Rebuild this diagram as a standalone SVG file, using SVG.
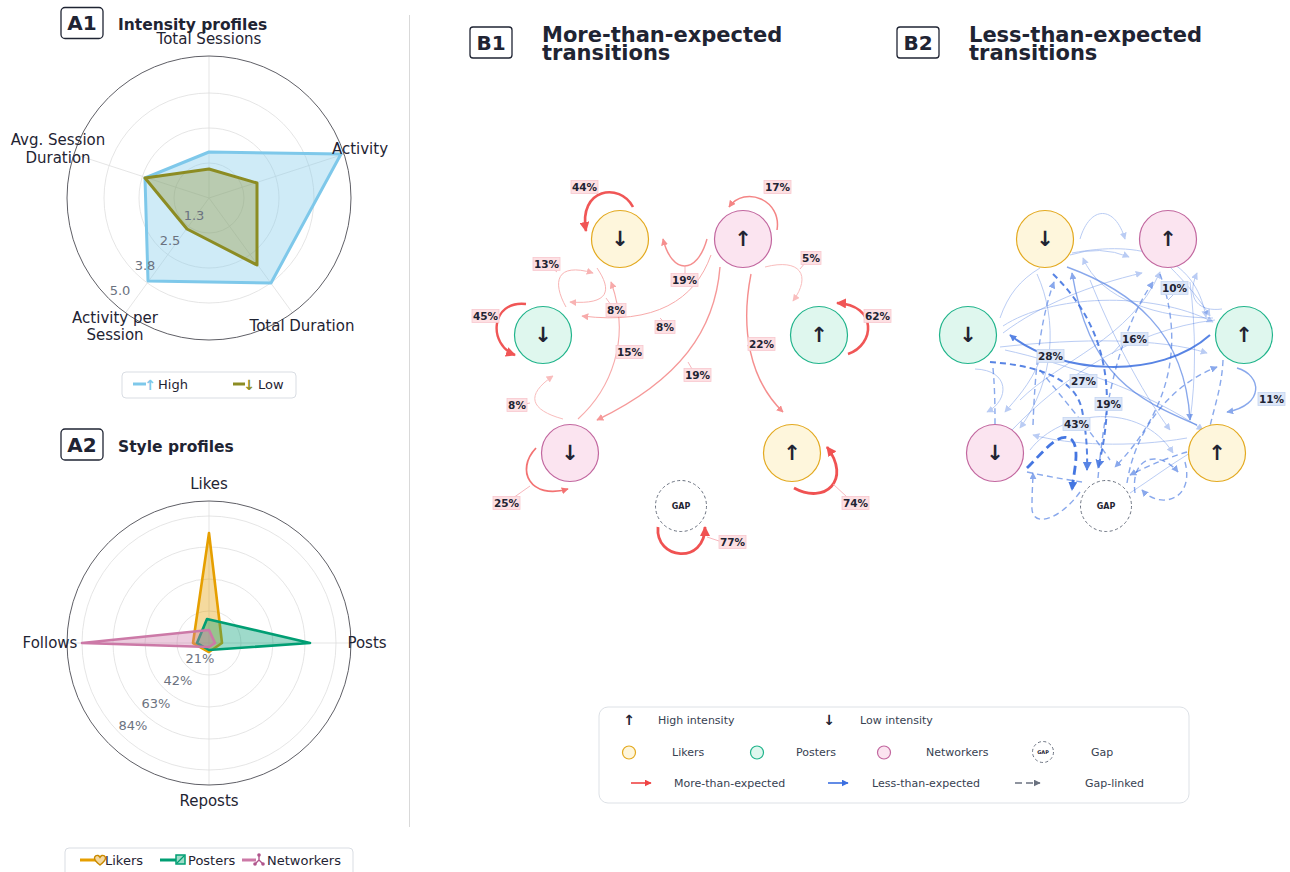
<svg xmlns="http://www.w3.org/2000/svg" width="1290" height="872" viewBox="0 0 1290 872">
<style>
text{font-family:"DejaVu Sans","Liberation Sans",sans-serif;fill:#1f2433}
.ttl{font-weight:bold;font-size:15.5px}
.badge{fill:#fff;stroke:#1f2433;stroke-width:1.3}
.bt{font-weight:bold;font-size:20px;text-anchor:middle}
.ax{font-size:15px;text-anchor:middle}
.tk{font-size:13px;fill:#6b7280;text-anchor:middle}
.grid{fill:none;stroke:#dedede;stroke-width:0.8}
.spine{fill:none;stroke:#5f5f66;stroke-width:1}
.lg{font-size:13px}
.lbox{fill:#fff;stroke:#d9dde3;stroke-width:1}
.big{font-weight:bold;font-size:21px}
.nl{font-weight:bold;font-size:21px;text-anchor:middle}
.lk{fill:#fef6dc;stroke:#e3a91f;stroke-width:1.2}
.ps{fill:#dff7ee;stroke:#20b48b;stroke-width:1.2}
.nw{fill:#fbe4f0;stroke:#c2679f;stroke-width:1.2}
.gap{fill:#fff;stroke:#6b7280;stroke-width:1;stroke-dasharray:3 2.5}
.gt{font-weight:bold;font-size:8px;text-anchor:middle}
.r{fill:none;stroke:#ef4444}
.b{fill:none;stroke:#3b6fe0}
.d{stroke-dasharray:6 4}
.pl{fill:#fde0e3;stroke:#f8c8ce;stroke-width:0.8}
.bl{fill:#dde7f8;stroke:#c5d5f1;stroke-width:0.8}
.et{font-weight:bold;font-size:10.5px;text-anchor:middle}
.ld{stroke:#f4a3ab;stroke-width:0.8;fill:none}
.ldb{stroke:#9fb8ec;stroke-width:0.8;fill:none}
.lt{font-size:11px;fill:#374151}
.s1{stroke-width:1;opacity:0.35}
.s2{stroke-width:1.4;opacity:0.6}
.s3{stroke-width:2;opacity:0.85}
.s4{stroke-width:2.8;opacity:0.95}
</style>
<defs>
<marker id="mr" viewBox="0 0 10 10" refX="9" refY="5" markerWidth="7" markerHeight="7" markerUnits="userSpaceOnUse" orient="auto"><path d="M0,0 L10,5 L0,10 z" fill="#ef4444"/></marker>
<marker id="mrb" viewBox="0 0 10 10" refX="9" refY="5" markerWidth="10" markerHeight="10" markerUnits="userSpaceOnUse" orient="auto"><path d="M0,0 L10,5 L0,10 z" fill="#ef4444"/></marker>
<marker id="mb" viewBox="0 0 10 10" refX="9" refY="5" markerWidth="7" markerHeight="7" markerUnits="userSpaceOnUse" orient="auto"><path d="M0,0 L10,5 L0,10 z" fill="#3b6fe0"/></marker>
<marker id="mbb" viewBox="0 0 10 10" refX="9" refY="5" markerWidth="9" markerHeight="9" markerUnits="userSpaceOnUse" orient="auto"><path d="M0,0 L10,5 L0,10 z" fill="#3b6fe0"/></marker>
<marker id="mg" viewBox="0 0 10 10" refX="9" refY="5" markerWidth="7" markerHeight="7" markerUnits="userSpaceOnUse" orient="auto"><path d="M0,0 L10,5 L0,10 z" fill="#6b7280"/></marker>
</defs>
<rect width="1290" height="872" fill="#fff"/>

<!-- divider -->
<line x1="409.5" y1="15" x2="409.5" y2="827" stroke="#d9d9d9" stroke-width="1"/>

<!-- Panel A1 -->
<g id="panelA1">
<rect class="badge" x="61" y="7.5" width="42" height="31" rx="4"/>
<text class="bt" x="82" y="30">A1</text>
<text class="ttl" x="118" y="30">Intensity profiles</text>
<g id="radarA1-grid">
<circle class="grid" cx="209" cy="198" r="35"/>
<circle class="grid" cx="209" cy="198" r="70"/>
<circle class="grid" cx="209" cy="198" r="105"/>
<line class="grid" x1="209" y1="198" x2="209" y2="56"/>
<line class="grid" x1="209" y1="198" x2="344" y2="154.1"/>
<line class="grid" x1="209" y1="198" x2="292.5" y2="312.9"/>
<line class="grid" x1="209" y1="198" x2="125.5" y2="312.9"/>
<line class="grid" x1="209" y1="198" x2="74" y2="154.1"/>
<circle class="spine" cx="209" cy="198" r="142"/>
</g>
<polygon id="a1-high" points="209,152 341,154 271,283 148,281 145,178" fill="#87ceeb" fill-opacity="0.4" stroke="#7ec8ea" stroke-width="3" stroke-linejoin="round"/>
<polygon id="a1-low" points="209,169 257,183 257,265 187,229 145,178" fill="#8f8f2a" fill-opacity="0.35" stroke="#8c8c23" stroke-width="3" stroke-linejoin="round"/>
<text class="tk" x="194" y="220">1.3</text>
<text class="tk" x="170" y="245">2.5</text>
<text class="tk" x="145" y="270">3.8</text>
<text class="tk" x="120" y="295">5.0</text>
<text class="ax" x="209" y="44">Total Sessions</text>
<text class="ax" x="360" y="154">Activity</text>
<text class="ax" x="302" y="331">Total Duration</text>
<text class="ax" x="115" y="323">Activity per</text>
<text class="ax" x="115" y="340">Session</text>
<text class="ax" x="58" y="145">Avg. Session</text>
<text class="ax" x="58" y="163">Duration</text>
<g id="legendA1">
<rect class="lbox" x="122" y="372" width="174" height="26" rx="4"/>
<line x1="133" y1="384" x2="146" y2="384" stroke="#7ec8ea" stroke-width="3"/>
<text x="150" y="389.5" font-size="14" font-weight="bold" text-anchor="middle" style="fill:#7ec8ea">↑</text>
<text class="lg" x="158" y="389">High</text>
<line x1="233" y1="384" x2="245" y2="384" stroke="#8c8c23" stroke-width="3"/>
<text x="249" y="389.5" font-size="14" font-weight="bold" text-anchor="middle" style="fill:#8c8c23">↓</text>
<text class="lg" x="258" y="389">Low</text>
</g>
</g>

<!-- Panel A2 -->
<g id="panelA2">
<rect class="badge" x="61" y="429" width="42" height="31" rx="4"/>
<text class="bt" x="82" y="452">A2</text>
<text class="ttl" x="118" y="452">Style profiles</text>
<g id="radarA2-grid">
<circle class="grid" cx="209" cy="643" r="32"/>
<circle class="grid" cx="209" cy="643" r="64"/>
<circle class="grid" cx="209" cy="643" r="96"/>
<circle class="grid" cx="209" cy="643" r="127"/>
<line class="grid" x1="209" y1="501" x2="209" y2="785"/>
<line class="grid" x1="67" y1="643" x2="351" y2="643"/>
<circle class="spine" cx="209" cy="643" r="142"/>
</g>
<polygon id="a2-likers" points="209,533 222,643 209,652 193,643" fill="#e69f00" fill-opacity="0.38" stroke="#e69f00" stroke-width="2.6" stroke-linejoin="round"/>
<polygon id="a2-posters" points="207,619 310,643 209,650 197,643" fill="#009e73" fill-opacity="0.38" stroke="#009e73" stroke-width="2.6" stroke-linejoin="round"/>
<polygon id="a2-networkers" points="209,630 215,643 209,647 82,643" fill="#cc79a7" fill-opacity="0.38" stroke="#cc79a7" stroke-width="2.6" stroke-linejoin="round"/>
<text class="tk" x="200" y="663">21%</text>
<text class="tk" x="178" y="685">42%</text>
<text class="tk" x="156" y="708">63%</text>
<text class="tk" x="133" y="730">84%</text>
<text class="ax" x="209" y="489">Likes</text>
<text class="ax" x="367" y="648">Posts</text>
<text class="ax" x="209" y="806">Reposts</text>
<text class="ax" x="50" y="648">Follows</text>
<g id="legendA2">
<rect class="lbox" x="65" y="848" width="288" height="30" rx="4"/>
<line x1="80" y1="860" x2="96" y2="860" stroke="#e69f00" stroke-width="3"/>
<path d="M100,865 C96,862 94.5,860 94.5,858 C94.5,856 96.5,855 98,855.5 C99,855.9 99.6,856.6 100,857.3 C100.4,856.6 101,855.9 102,855.5 C103.5,855 105.5,856 105.5,858 C105.5,860 104,862 100,865 Z" fill="#f5d9a0" stroke="#c98a00" stroke-width="1.4"/>
<text class="lg" x="105" y="865">Likers</text>
<line x1="160" y1="860" x2="176" y2="860" stroke="#009e73" stroke-width="3"/>
<rect x="176" y="855" width="9" height="9" fill="#9fdcc8" stroke="#009e73" stroke-width="1.5"/>
<line x1="177" y1="863" x2="184" y2="856" stroke="#009e73" stroke-width="1.3"/>
<text class="lg" x="188" y="865">Posters</text>
<line x1="242" y1="860" x2="256" y2="860" stroke="#cc79a7" stroke-width="3"/>
<path d="M259,855 L259,860 M259,860 L255,864 M259,860 L263,864" stroke="#b0558c" stroke-width="1.4" fill="none"/>
<circle cx="259" cy="855" r="1.8" fill="#b0558c"/>
<circle cx="255" cy="864" r="1.8" fill="#b0558c"/>
<circle cx="263" cy="864" r="1.8" fill="#b0558c"/>
<text class="lg" x="267" y="865">Networkers</text>
</g>
</g>

<!-- Panel B1 titles -->
<g id="titleB1">
<rect class="badge" x="470" y="27" width="42" height="31" rx="3"/>
<text class="bt" x="491" y="50">B1</text>
<text class="big" x="542" y="42">More-than-expected</text>
<text class="big" x="542" y="60">transitions</text>
</g>
<g id="titleB2">
<rect class="badge" x="897" y="27" width="42" height="31" rx="3"/>
<text class="bt" x="918" y="50">B2</text>
<text class="big" x="969" y="42">Less-than-expected</text>
<text class="big" x="969" y="60">transitions</text>
</g>

<!-- B1 connectors -->
<g id="edgesB1">
<path class="r" d="M633,207 C620,182 578,188 586,231" stroke-width="2.6" opacity="0.9" marker-end="url(#mrb)"/>
<path class="r" d="M777,230 C782,200 745,185 729,207" stroke-width="1.5" opacity="0.65" marker-end="url(#mr)"/>
<path class="r" d="M707,239 C697,275 672,275 663,239" stroke-width="1.4" opacity="0.6" marker-end="url(#mr)"/>
<path class="r" d="M566,307 C552,282 556,262 593,273" stroke-width="1" opacity="0.4" marker-end="url(#mr)"/>
<path class="r" d="M597,268 C612,290 610,305 570,302" stroke-width="1" opacity="0.4" marker-end="url(#mr)"/>
<path class="r" d="M711,255 C695,300 655,325 582,316" stroke-width="1" opacity="0.45" marker-end="url(#mr)"/>
<path class="r" d="M578,419 C610,390 632,340 611,282" stroke-width="1.1" opacity="0.45" marker-end="url(#mr)"/>
<path class="r" d="M720,267 C715,330 680,380 597,420" stroke-width="1.4" opacity="0.55" marker-end="url(#mr)"/>
<path class="r" d="M751,274 C740,330 750,380 783,412" stroke-width="1.4" opacity="0.6" marker-end="url(#mr)"/>
<path class="r" d="M765,267 C800,258 812,275 793,301" stroke-width="1" opacity="0.35" marker-end="url(#mr)"/>
<path class="r" d="M848,354 C875,345 878,305 837,303" stroke-width="2.6" opacity="0.9" marker-end="url(#mrb)"/>
<path class="r" d="M526,304 C490,300 488,345 515,355" stroke-width="2.4" opacity="0.9" marker-end="url(#mrb)"/>
<path class="r" d="M563,419 C530,410 525,395 553,376" stroke-width="1" opacity="0.35" marker-end="url(#mr)"/>
<path class="r" d="M536,448 C515,470 530,500 568,489" stroke-width="1.8" opacity="0.75" marker-end="url(#mr)"/>
<path class="r" d="M794,488 C825,505 852,480 827,447" stroke-width="2.8" opacity="0.92" marker-end="url(#mrb)"/>
<path class="r" d="M658,527 C655,560 705,565 705,527" stroke-width="2.8" opacity="0.92" marker-end="url(#mrb)"/>
<path class="ld" d="M685,266 L685,274 M557,272 L552,268 M606,298 L611,305 M660,318 L663,321 M530,486 L513,498 M833,484 L847,497 M707,537 L719,541 M747,346 L750,344 M800,269 L805,263 M688,362 L692,369 M525,404 L530,403"/>
</g>
<g id="labelsB1">
<g><rect class="pl" x="571" y="180.5" width="27" height="13"/><text class="et" x="584.5" y="191">44%</text></g>
<g><rect class="pl" x="764" y="180.5" width="27" height="13"/><text class="et" x="777.5" y="191">17%</text></g>
<g><rect class="pl" x="671" y="273.5" width="27" height="13"/><text class="et" x="684.5" y="284">19%</text></g>
<g><rect class="pl" x="533" y="257.5" width="27" height="13"/><text class="et" x="546.5" y="268">13%</text></g>
<g><rect class="pl" x="606" y="303.5" width="20" height="13"/><text class="et" x="616" y="314">8%</text></g>
<g><rect class="pl" x="655" y="320.5" width="20" height="13"/><text class="et" x="665" y="331">8%</text></g>
<g><rect class="pl" x="616" y="345.5" width="27" height="13"/><text class="et" x="629.5" y="356">15%</text></g>
<g><rect class="pl" x="684" y="368.5" width="27" height="13"/><text class="et" x="697.5" y="379">19%</text></g>
<g><rect class="pl" x="748" y="337.5" width="27" height="13"/><text class="et" x="761.5" y="348">22%</text></g>
<g><rect class="pl" x="801" y="251.5" width="20" height="13"/><text class="et" x="811" y="262">5%</text></g>
<g><rect class="pl" x="864" y="309.5" width="27" height="13"/><text class="et" x="877.5" y="320">62%</text></g>
<g><rect class="pl" x="472" y="309.5" width="27" height="13"/><text class="et" x="485.5" y="320">45%</text></g>
<g><rect class="pl" x="507" y="398.5" width="20" height="13"/><text class="et" x="517" y="409">8%</text></g>
<g><rect class="pl" x="493" y="496.5" width="27" height="13"/><text class="et" x="506.5" y="507">25%</text></g>
<g><rect class="pl" x="842" y="496.5" width="27" height="13"/><text class="et" x="855.5" y="507">74%</text></g>
<g><rect class="pl" x="719" y="535.5" width="27" height="13"/><text class="et" x="732.5" y="546">77%</text></g>
</g>

<!-- B1 nodes -->
<g id="b1-likers-low"><circle class="lk" cx="620" cy="239" r="28.5"/><text class="nl" x="620" y="246">↓</text></g>
<g id="b1-networkers-high"><circle class="nw" cx="743" cy="239" r="28.5"/><text class="nl" x="743" y="246">↑</text></g>
<g id="b1-posters-low"><circle class="ps" cx="543" cy="335" r="28.5"/><text class="nl" x="543" y="342">↓</text></g>
<g id="b1-posters-high"><circle class="ps" cx="819" cy="335" r="28.5"/><text class="nl" x="819" y="342">↑</text></g>
<g id="b1-networkers-low"><circle class="nw" cx="570" cy="453" r="28.5"/><text class="nl" x="570" y="460">↓</text></g>
<g id="b1-likers-high"><circle class="lk" cx="792" cy="453" r="28.5"/><text class="nl" x="792" y="460">↑</text></g>
<g id="b1-gap"><circle class="gap" cx="681" cy="506" r="25.5"/><text class="gt" x="681" y="509">GAP</text></g>

<!-- B2 connectors -->
<g id="edgesB2">
<path class="b s1" d="M1080,239 C1090,205 1115,205 1125,239" marker-end="url(#mb)"/>
<path class="b s1" d="M1070,255 Q1100,245 1129,257" marker-end="url(#mb)"/>
<path class="b s1" d="M1072,253 C1140,240 1195,255 1206,317" marker-end="url(#mb)"/>
<path class="b s1" d="M1213,318 C1160,318 1100,300 1083,258" marker-end="url(#mb)"/>
<path class="b s1" d="M1003,333 C1040,305 1090,285 1142,273" marker-end="url(#mb)"/>
<path class="b s1" d="M1003,326 C1050,295 1150,290 1213,322" marker-end="url(#mb)"/>
<path class="b s1" d="M1000,347 C1080,338 1160,338 1207,353" marker-end="url(#mb)"/>
<path class="b s1" d="M1000,318 C1008,295 1020,280 1040,268"/>
<path class="b s1" d="M1037,274 C1058,320 1055,380 1020,428" marker-end="url(#mb)"/>
<path class="b s1" d="M1170,267 C1188,285 1200,300 1210,316" marker-end="url(#mb)"/>
<path class="b s1" d="M1222,309 C1200,312 1185,300 1197,273" marker-end="url(#mb)"/>
<path class="b s1" d="M975,369 C1010,370 1010,400 987,412" marker-end="url(#mb)"/>
<path class="b s1" d="M1040,360 C1030,385 1015,400 1005,412" marker-end="url(#mb)"/>
<path class="b s1" d="M1187,438 C1130,448 1070,445 1033,435" marker-end="url(#mb)"/>
<path class="b s1" d="M1030,450 C1060,410 1140,400 1173,453" marker-end="url(#mb)"/>
<path class="b s1" d="M1130,493 C1150,480 1170,465 1190,453"/>
<path class="b s1" d="M1005,350 C1060,362 1150,392 1203,430" marker-end="url(#mb)"/>
<path class="b s1" d="M1020,400 C1060,360 1130,340 1160,272" marker-end="url(#mb)"/>
<path class="b s1" d="M1190,282 C1196,330 1196,380 1190,420"/>
<path class="b s1" d="M1012,430 C1060,380 1130,330 1215,320"/>
<path class="b s1" d="M1090,280 C1110,330 1140,390 1170,430" marker-end="url(#mb)"/>
<path class="b s2" d="M1067,267 C1130,290 1185,330 1190,420" marker-end="url(#mb)"/>
<path class="b s2" d="M1197,425 C1140,400 1090,380 1072,273" stroke-width="1.8" marker-end="url(#mb)"/>
<path class="b s3" d="M1210,335 C1160,380 1060,375 1010,335" stroke-width="1.8" opacity="0.7" marker-end="url(#mb)"/>
<path class="b s2" d="M1237,368 C1262,375 1265,405 1227,412" marker-end="url(#mb)"/>
<path class="b d s3" d="M990,362 C1030,365 1075,375 1082,410 Q1088,440 1087,470" marker-end="url(#mbb)"/>
<path class="b d s3" d="M1053,274 C1100,320 1120,380 1098,468" marker-end="url(#mbb)"/>
<path class="b s4" d="M1027,468 C1045,450 1060,430 1072,440 C1080,450 1074,470 1072,490" stroke-dasharray="9 5" marker-end="url(#mbb)"/>
<path class="b d s2" d="M1160,274 C1180,330 1180,400 1115,467" stroke-width="1.5" opacity="0.75" marker-end="url(#mb)"/>
<path class="b d s2" d="M1098,478 C1105,400 1120,330 1153,282" marker-end="url(#mb)"/>
<path class="b d s2" d="M1033,425 C1035,370 1040,320 1054,282" marker-end="url(#mb)"/>
<path class="b d s2" d="M1127,483 C1135,430 1170,385 1217,367" marker-end="url(#mb)"/>
<path class="b d s2" d="M1187,452 Q1160,460 1130,475" marker-end="url(#mb)"/>
<path class="b d s2" d="M1135,493 C1130,455 1160,450 1178,472" marker-end="url(#mb)"/>
<path class="b d s2" d="M1185,462 C1195,500 1160,510 1142,490" marker-end="url(#mb)"/>
<path class="b d s2" d="M993,368 C995,390 995,410 995,424"/>
<path class="b d s2" d="M1080,492 C1060,520 1030,530 1032,505 C1032,490 1033,480 1033,473" marker-end="url(#mb)"/>
<path class="b d s2" d="M1027,472 Q1055,478 1082,482"/>
<path class="b d s2" d="M1223,360 C1222,385 1215,405 1210,426"/>
<path class="b d s2" d="M1040,370 C1060,395 1090,430 1110,460" opacity="0.45"/>
<path class="ldb" d="M1120,345 L1112,354 M1173,295 L1168,300"/>
</g>
<g id="labelsB2">
<g><rect class="bl" x="1161" y="281.5" width="27" height="13"/><text class="et" x="1174.5" y="292">10%</text></g>
<g><rect class="bl" x="1121" y="332.5" width="27" height="13"/><text class="et" x="1134.5" y="343">16%</text></g>
<g><rect class="bl" x="1037" y="349.5" width="27" height="13"/><text class="et" x="1050.5" y="360">28%</text></g>
<g><rect class="bl" x="1070" y="374.5" width="27" height="13"/><text class="et" x="1083.5" y="385">27%</text></g>
<g><rect class="bl" x="1095" y="397.5" width="27" height="13"/><text class="et" x="1108.5" y="408">19%</text></g>
<g><rect class="bl" x="1063" y="417.5" width="27" height="13"/><text class="et" x="1076.5" y="428">43%</text></g>
<g><rect class="bl" x="1258" y="392.5" width="27" height="13"/><text class="et" x="1271.5" y="403">11%</text></g>
</g>

<!-- B2 nodes -->
<g id="b2-likers-low"><circle class="lk" cx="1045" cy="239" r="28.5"/><text class="nl" x="1045" y="246">↓</text></g>
<g id="b2-networkers-high"><circle class="nw" cx="1168" cy="239" r="28.5"/><text class="nl" x="1168" y="246">↑</text></g>
<g id="b2-posters-low"><circle class="ps" cx="968" cy="335" r="28.5"/><text class="nl" x="968" y="342">↓</text></g>
<g id="b2-posters-high"><circle class="ps" cx="1244" cy="335" r="28.5"/><text class="nl" x="1244" y="342">↑</text></g>
<g id="b2-networkers-low"><circle class="nw" cx="995" cy="453" r="28.5"/><text class="nl" x="995" y="460">↓</text></g>
<g id="b2-likers-high"><circle class="lk" cx="1217" cy="453" r="28.5"/><text class="nl" x="1217" y="460">↑</text></g>
<g id="b2-gap"><circle class="gap" cx="1106" cy="506" r="25.5"/><text class="gt" x="1106" y="509">GAP</text></g>

<!-- Legend B -->
<g id="legendB">
<rect x="599" y="707" width="590" height="96" rx="9" fill="#fff" stroke="#dde1e6" stroke-width="1"/>
<text x="629" y="725" font-size="14" font-weight="bold" text-anchor="middle">↑</text>
<text class="lt" x="658" y="724">High intensity</text>
<text x="829" y="725" font-size="14" font-weight="bold" text-anchor="middle">↓</text>
<text class="lt" x="860" y="724">Low intensity</text>
<circle class="lk" cx="629" cy="752.5" r="6.5"/>
<text class="lt" x="672" y="756">Likers</text>
<circle class="ps" cx="757" cy="752.5" r="6.5"/>
<text class="lt" x="796" y="756">Posters</text>
<circle class="nw" cx="884" cy="752.5" r="6.5"/>
<text class="lt" x="926" y="756">Networkers</text>
<circle class="gap" cx="1043" cy="752" r="10.5" stroke-dasharray="2 1.5"/>
<text x="1043" y="754" font-size="5" font-weight="bold" text-anchor="middle">GAP</text>
<text class="lt" x="1091" y="756">Gap</text>
<line x1="631" y1="783" x2="651" y2="783" stroke="#ef4444" stroke-width="1.6" marker-end="url(#mr)"/>
<text class="lt" x="674" y="787">More-than-expected</text>
<line x1="828" y1="783" x2="848" y2="783" stroke="#3b6fe0" stroke-width="1.6" marker-end="url(#mb)"/>
<text class="lt" x="872" y="787">Less-than-expected</text>
<line x1="1015" y1="783" x2="1040" y2="783" stroke="#6b7280" stroke-width="1.4" stroke-dasharray="7 4" marker-end="url(#mg)"/>
<text class="lt" x="1085" y="787">Gap-linked</text>
</g>
</svg>
